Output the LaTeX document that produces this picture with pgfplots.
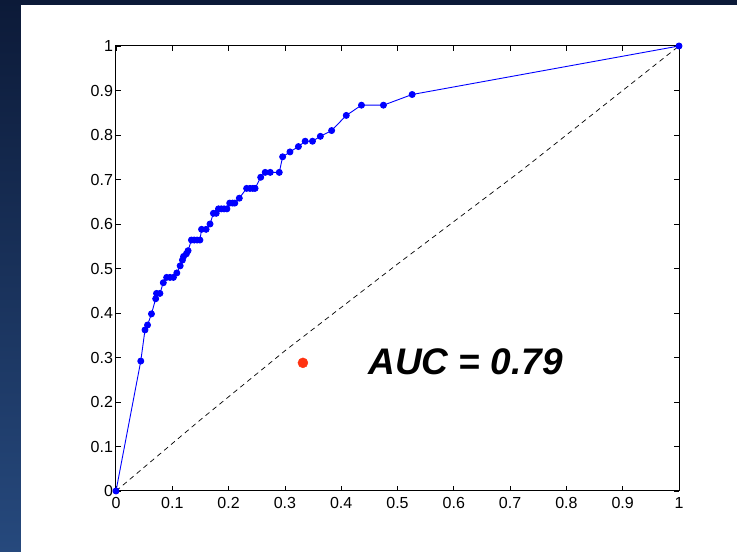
\documentclass[border=0pt]{standalone}
\usepackage{fontspec}
\setmainfont{Liberation Sans}
\usepackage{pgfplots}
\pgfplotsset{compat=1.18}

\definecolor{navytop}{RGB}{12,26,56}
\definecolor{navybot}{RGB}{38,73,125}
\definecolor{rocblue}{RGB}{0,0,255}
\definecolor{dotred}{RGB}{255,51,17}

\begin{document}
\begin{tikzpicture}
\useasboundingbox (0,0) rectangle (737pt,552pt);
% slide background
\shade[top color=navytop, bottom color=navybot] (0,0) rectangle (737pt,552pt);
\fill[white] (21pt,0) rectangle (737pt,547pt);

\begin{axis}[at={(116pt,61pt)}, anchor=south west, scale only axis,
  width=563pt, height=445pt,
  xmin=0, xmax=1, ymin=0, ymax=1,
  xtick={0,0.1,0.2,0.3,0.4,0.5,0.6,0.7,0.8,0.9,1},
  ytick={0,0.1,0.2,0.3,0.4,0.5,0.6,0.7,0.8,0.9,1},
  tick align=inside, major tick length=5pt,
  axis line style={line width=1pt},
  tick style={black, line width=0.8pt},
  ticklabel style={font=\fontsize{16}{16}\selectfont},
  /pgf/number format/assume math mode=true,
  /pgf/number format/fixed,
  xticklabel style={yshift=-2.5pt},
  yticklabel style={xshift=0.5pt},
]
% chance diagonal
\addplot[black, line width=0.7pt, dash pattern=on 5pt off 4pt] coordinates {
(0,0) (0.15,0.16) (0.30,0.315) (0.50,0.51) (0.72,0.72) (1,1)};
% ROC curve
\addplot[rocblue, line width=0.9pt, mark=*, mark size=3pt, mark options={fill=rocblue, draw=rocblue}] coordinates {
(0,0) (0.044,0.292) (0.0515,0.362) (0.056,0.373) (0.063,0.398) (0.0705,0.432)
(0.072,0.444) (0.078,0.444) (0.084,0.468) (0.090,0.480) (0.096,0.480) (0.102,0.480)
(0.108,0.490) (0.114,0.506) (0.118,0.519) (0.120,0.527) (0.125,0.533) (0.128,0.540)
(0.134,0.564) (0.139,0.564) (0.144,0.564) (0.149,0.564) (0.152,0.588) (0.160,0.588)
(0.167,0.600) (0.173,0.624) (0.178,0.624) (0.182,0.634) (0.187,0.634) (0.192,0.634)
(0.197,0.634) (0.202,0.647) (0.207,0.647) (0.211,0.647) (0.219,0.658) (0.232,0.680)
(0.238,0.680) (0.243,0.680) (0.247,0.680) (0.257,0.705) (0.265,0.716) (0.274,0.716)
(0.290,0.716) (0.296,0.751) (0.309,0.762) (0.324,0.774) (0.336,0.786) (0.349,0.786)
(0.363,0.797) (0.383,0.810) (0.409,0.844) (0.436,0.867) (0.475,0.867) (0.526,0.891)
(1,1)};
% operating point
\addplot[only marks, mark=*, mark size=5pt, dotred, mark options={fill=dotred, draw=dotred}] coordinates {(0.332,0.288)};
\node[font=\fontsize{37}{37}\selectfont\bfseries\itshape] at (axis cs:0.621,0.29) {AUC = 0.79};
\end{axis}
\end{tikzpicture}
\end{document}
